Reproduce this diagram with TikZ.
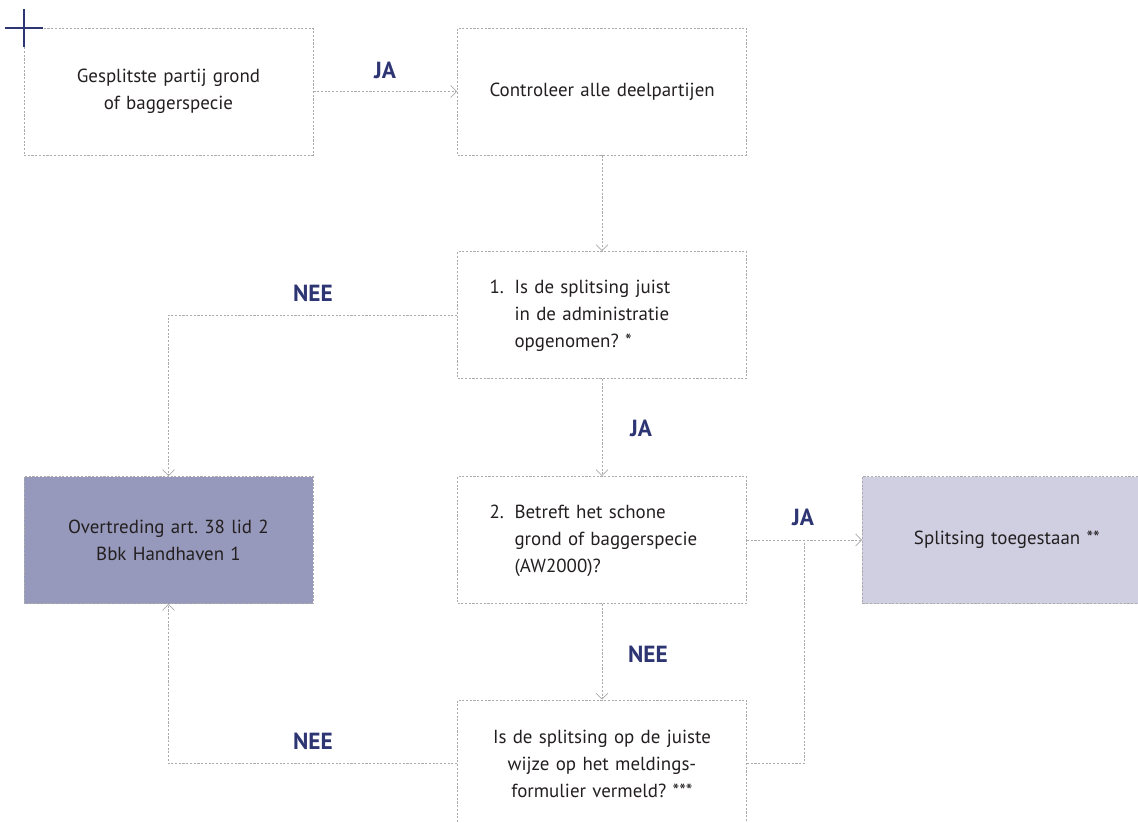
\documentclass[tikz,border=0pt]{standalone}
\usepackage{fontspec}
\setmainfont{PT Sans}
\usepackage{tikz}
\usetikzlibrary{arrows.meta,calc,positioning}
\definecolor{navy}{HTML}{2E3573}
\definecolor{ink}{HTML}{231F20}
\definecolor{dotgray}{HTML}{ABABAB}
\definecolor{stopfill}{HTML}{9699BB}
\definecolor{okfill}{HTML}{D0CFE2}
\frenchspacing

\begin{document}
\begin{tikzpicture}[x=0.75pt,y=-0.75pt,
  box/.style={draw=dotgray,line width=0.6pt,dash pattern=on 1.6pt off 1.2pt,rectangle,
    text width=168.75pt,inner xsep=24pt,inner ysep=0pt,minimum height=95.25pt,
    align=center,text=ink,font=\fontsize{14.2}{20.3}\selectfont},
  qbox/.style={box,align=left},
  link/.style={draw=dotgray,line width=0.6pt,dash pattern=on 1.6pt off 1.2pt,
    -{Straight Barb[length=4.5pt,width=9pt,line width=0.5pt]}},
  lbl/.style={text=navy,font=\fontsize{17.5}{20}\selectfont\bfseries}]
\useasboundingbox (0,0) rectangle (1138,822);
% boxes
\node[box] (split) at (168.5,91.5) {Gesplitste partij grond\\of baggerspecie};
\node[box] (check) at (602,91.5) {Controleer alle deelpartijen};
\node[qbox] (admin) at (602,315) {\begin{tabular}{@{}l@{\hspace{8pt}}l@{}}1.&Is de splitsing juist\\&in de administratie\\&opgenomen? *\end{tabular}};
\node[box,fill=stopfill] (fout) at (168.5,540) {Overtreding art. 38 lid 2\\Bbk Handhaven 1};
\node[qbox] (schoon) at (602,540) {\begin{tabular}{@{}l@{\hspace{8pt}}l@{}}2.&Betreft het schone\\&grond of baggerspecie\\&(AW2000)?\end{tabular}};
\node[box,fill=okfill,anchor=west] (ok) at (862,540) {Splitsing toegestaan **};
\node[box] (melding) at (602,763.5) {Is de splitsing op de juiste\\wijze op het meldings-\\formulier vermeld? ***};
% corner cross
\draw[navy,line width=1.8pt] (5,28) -- (43,28) (24,9) -- (24,47);
% connectors
\draw[link] (split) -- (check);
\draw[link] (check) -- (admin);
\draw[link] (admin.west) -| (fout.north);
\draw[link] (admin) -- (schoon);
\draw[link] (schoon) -- (ok);
\draw[link] (schoon) -- (melding);
\draw[link] (melding.west) -| (fout.south);
\coordinate (join) at ($(schoon.east)!0.5!(ok.west)$);
\draw[link,-] (melding.east) -| (join);
% labels
\node[lbl] (jaA) at (385,70) {JA};
\node[lbl] (neeA) at (313,293) {NEE};
\node[lbl] (jaB) at (641,428) {JA};
\node[lbl] (jaC) at (803,517) {JA};
\node[lbl] (neeB) at (648,654) {NEE};
\node[lbl] (neeC) at (313,741) {NEE};
\end{tikzpicture}
\end{document}
